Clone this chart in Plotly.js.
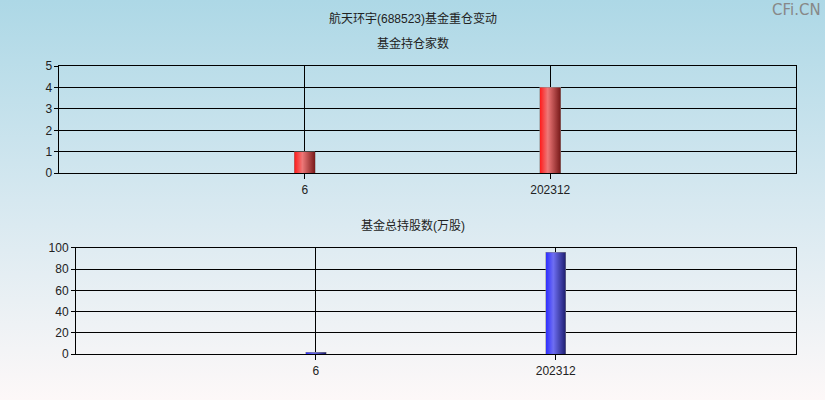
<!DOCTYPE html>
<html>
<head>
<meta charset="utf-8">
<script src="https://cdn.plot.ly/plotly-3.0.1.min.js"></script>
<style>
  html, body { margin: 0; padding: 0; }
  body { width: 825px; height: 400px; background: linear-gradient(to bottom, #add8e6 0%, #d6e8f0 50%, #fdf8f8 100%); }
  #plot { width: 825px; height: 400px; }
</style>
</head>
<body>
<div id="plot"></div>
<script>
var categories = ["6", "202312"];
var fundCount = [1, 4];          // 基金持仓家数
var fundShares = [2, 95.5];      // 基金总持股数(万股)

var mainTitle = "航天环宇(688523)基金重仓变动";
var topTitle = "基金持仓家数";
var bottomTitle = "基金总持股数(万股)";

var font = "Liberation Sans, Arial, Noto Sans CJK SC, sans-serif";

var data = [
  {x: categories, y: fundCount, type: "bar", width: 0.085, xaxis: "x", yaxis: "y",
   marker: {color: "#e03030", line: {width: 0}}, hoverinfo: "none"},
  {x: categories, y: fundShares, type: "bar", width: 0.085, xaxis: "x2", yaxis: "y2",
   marker: {color: "#3030e0", line: {width: 0}}, hoverinfo: "none"}
];

function xAxis(domain, anchor) {
  return {
    domain: domain, anchor: anchor, type: "category", range: [-1, 2],
    showgrid: true, gridcolor: "#000", gridwidth: 1,
    showline: true, linecolor: "#000", linewidth: 1, mirror: true,
    ticks: "outside", ticklen: 5, tickcolor: "#000",
    tickfont: {size: 12, color: "#222", family: font},
    zeroline: false, fixedrange: true
  };
}
function yAxis(domain, anchor, range, dtick) {
  return {
    domain: domain, anchor: anchor, range: range, dtick: dtick,
    showgrid: true, gridcolor: "#000", gridwidth: 1,
    showline: true, linecolor: "#000", linewidth: 1, mirror: true,
    ticks: "outside", ticklen: 4, tickcolor: "#000",
    tickfont: {size: 12, color: "#222", family: font},
    zeroline: false, fixedrange: true
  };
}

var layout = {
  width: 825, height: 400,
  margin: {l: 0, r: 0, t: 0, b: 0},
  paper_bgcolor: "rgba(0,0,0,0)", plot_bgcolor: "rgba(0,0,0,0)",
  showlegend: false, bargap: 0,
  font: {family: font, size: 12, color: "#222"},
  xaxis: xAxis([0.0721, 0.9644], "y"),
  yaxis: yAxis([0.5668, 0.835], "x", [0, 5], 1),
  xaxis2: xAxis([0.0921, 0.9644], "y2"),
  yaxis2: yAxis([0.1143, 0.3808], "x2", [0, 100], 20),
  annotations: [
    {text: mainTitle, xref: "paper", yref: "paper", x: 0.5, y: 0.955, showarrow: false,
     xanchor: "center", yanchor: "middle", font: {size: 12, color: "#222"}},
    {text: topTitle, xref: "paper", yref: "paper", x: 0.5, y: 0.8925, showarrow: false,
     xanchor: "center", yanchor: "middle", font: {size: 12, color: "#222"}},
    {text: bottomTitle, xref: "paper", yref: "paper", x: 0.5, y: 0.4375, showarrow: false,
     xanchor: "center", yanchor: "middle", font: {size: 12, color: "#222"}},
    {text: "CFi.CN", xref: "paper", yref: "paper", x: 0.998, y: 0.975, showarrow: false,
     xanchor: "right", yanchor: "middle", font: {size: 15, color: "#888888", family: "DejaVu Sans, sans-serif"}}
  ]
};

function addGradient(svg, id, stops) {
  var ns = "http://www.w3.org/2000/svg";
  var defs = svg.querySelector("defs") || svg.insertBefore(document.createElementNS(ns, "defs"), svg.firstChild);
  var g = document.createElementNS(ns, "linearGradient");
  g.setAttribute("id", id);
  g.setAttribute("x1", "0"); g.setAttribute("y1", "0");
  g.setAttribute("x2", "1"); g.setAttribute("y2", "0");
  stops.forEach(function(s) {
    var st = document.createElementNS(ns, "stop");
    st.setAttribute("offset", s[0]);
    st.setAttribute("stop-color", s[1]);
    g.appendChild(st);
  });
  defs.appendChild(g);
}

Plotly.newPlot("plot", data, layout, {staticPlot: true}).then(function(gd) {
  var svg = gd.querySelector("svg.main-svg");
  addGradient(svg, "redGrad", [["0", "#ff1a1a"], ["0.38", "#ee7878"], ["1", "#761818"]]);
  addGradient(svg, "blueGrad", [["0", "#2a2aff"], ["0.38", "#6e6ef2"], ["1", "#1c1c6e"]]);
  var traces = gd.querySelectorAll(".barlayer .trace");
  var fills = ["url(#redGrad)", "url(#blueGrad)"];
  traces.forEach(function(t, i) {
    t.querySelectorAll("path").forEach(function(p) {
      p.style.fill = fills[i];
      p.style.stroke = "#8a8a8a";
      p.style.strokeWidth = "0.5px";
    });
  });
});
</script>
</body>
</html>
